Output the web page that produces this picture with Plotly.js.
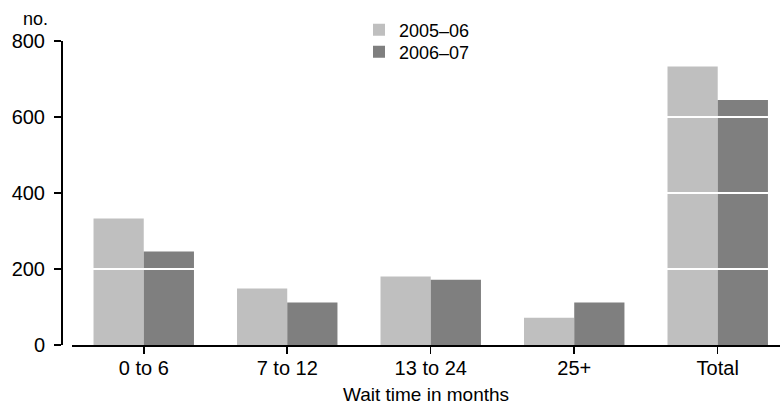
<!DOCTYPE html>
<html>
<head>
<meta charset="utf-8">
<script src="https://cdn.plot.ly/plotly-3.0.1.min.js"></script>
<style>html,body{margin:0;padding:0;background:#fff;}#chart{width:780px;height:405px;}</style>
</head>
<body>
<div id="chart"></div>
<script>
var categories = ["0 to 6", "7 to 12", "13 to 24", "25+", "Total"];
var series2005 = [333, 149, 180, 72, 733];
var series2006 = [246, 112, 172, 112, 645];
var seriesNames = ["2005\u201306", "2006\u201307"];
var yTicks = [0, 200, 400, 600, 800];
var gridValues = [200, 400, 600];

var FONT = "Liberation Sans, Arial, sans-serif";

var traces = [
  {type: "bar", name: seriesNames[0], x: categories, y: series2005, legend: "legend",
   marker: {color: "#bfbfbf", line: {width: 0}}, hoverinfo: "none"},
  {type: "bar", name: seriesNames[1], x: categories, y: series2006, legend: "legend2",
   marker: {color: "#7f7f7f", line: {width: 0}}, hoverinfo: "none"}
];

var shapes = gridValues.map(function (v) {
  return {type: "line", xref: "x domain", yref: "y", x0: 0, x1: 1, y0: v, y1: v,
          line: {color: "#ffffff", width: 2}, layer: "above"};
});

var legendFont = {family: FONT, size: 18, color: "#000"};

var layout = {
  width: 780, height: 405,
  margin: {l: 0, r: 0, t: 41, b: 60, pad: 0},
  paper_bgcolor: "#ffffff", plot_bgcolor: "#ffffff",
  font: {family: FONT, size: 20, color: "#000000"},
  barmode: "group", bargap: 0.3, bargroupgap: 0,
  showlegend: true,
  legend: {x: 359 / 780, xanchor: "left", y: 1 + (41 - 11.5) / 304, yanchor: "top",
           font: legendFont, bgcolor: "rgba(0,0,0,0)"},
  legend2: {x: 359 / 780, xanchor: "left", y: 1 + (41 - 33.5) / 304, yanchor: "top",
           font: legendFont, bgcolor: "rgba(0,0,0,0)"},
  xaxis: {
    domain: [72 / 780, 1], range: [-0.5, 4.434], type: "category",
    showline: true, linecolor: "#000", linewidth: 2,
    ticks: "outside", ticklen: 7, tickwidth: 1.5, tickcolor: "#000",
    ticklabelstandoff: -3,
    showgrid: false, zeroline: false,
    tickfont: {family: FONT, size: 20},
    title: {text: "Wait time in months", font: {family: FONT, size: 19}, standoff: 11}
  },
  yaxis: {
    anchor: "free", position: 61 / 780, range: [0, 800],
    tickvals: yTicks, ticktext: yTicks.map(String),
    showline: true, linecolor: "#000", linewidth: 1.5,
    ticks: "outside", ticklen: 7, tickwidth: 1.5, tickcolor: "#000",
    ticklabelstandoff: 5,
    showgrid: false, zeroline: false,
    tickfont: {family: FONT, size: 20}
  },
  shapes: shapes,
  annotations: [{text: "no.", xref: "paper", yref: "paper", x: 35 / 780, y: 1 + (41 - 19) / 304,
                 xanchor: "center", yanchor: "middle", showarrow: false,
                 font: {family: FONT, size: 18, color: "#000"}}]
};

Plotly.newPlot("chart", traces, layout, {displayModeBar: false, staticPlot: true});
</script>
</body>
</html>
